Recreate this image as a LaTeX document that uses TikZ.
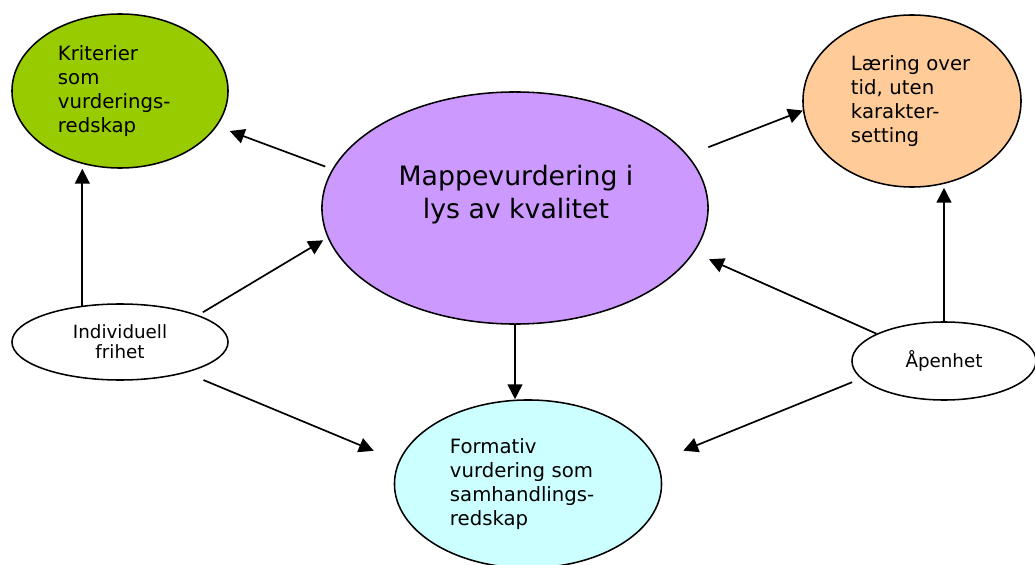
\documentclass[tikz,border=0pt]{standalone}
\usepackage{fontspec}
\setmainfont{DejaVu Sans}
\usepackage{xcolor}
\usepackage{tikz}
\usetikzlibrary{arrows.meta,shapes.geometric}

\definecolor{kritgronn}{HTML}{99CC00}
\definecolor{laeringoransje}{HTML}{FFCC99}
\definecolor{mappelilla}{HTML}{CC99FF}
\definecolor{formcyan}{HTML}{CCFFFF}

\begin{document}
\begin{tikzpicture}[x=0.025cm, y=-0.025cm,
    >={Triangle[length=10.5pt,width=10.5pt]},
    boble/.style={ellipse, draw=black, line width=1.1pt, inner sep=0pt},
    stor/.style={font=\fontsize{14}{17}\selectfont, align=left},
    liten/.style={font=\fontsize{13}{14.2}\selectfont, align=center},
    pil/.style={->, line width=1.2pt}]
  \useasboundingbox (0,0) rectangle (1035,565);
  % ------- centre: the portfolio -------
  \node[boble, fill=mappelilla, minimum width=9.65cm, minimum height=5.8cm] (mappe) at (515,208) {};
  \node[font=\fontsize{19}{23.5}\selectfont, align=center] (mappetekst) at (516,195)
    {Mappevurdering i\\lys av kvalitet};
  % ------- coloured ellipses -------
  \node[boble, stor, fill=kritgronn, minimum width=5.4cm, minimum height=3.85cm, text width=3.1cm] (krit) at (120,91)
    {Kriterier\\som\\vurderings-\\redskap};
  \node[boble, stor, fill=laeringoransje, minimum width=5.45cm, minimum height=4.3cm, text width=3.05cm] (laering) at (912,101)
    {Læring over\\tid, uten\\karakter-\\setting};
  \node[boble, stor, fill=formcyan, minimum width=6.675cm, minimum height=4.2cm, text width=3.9cm] (form) at (528,484)
    {Formativ\\vurdering som\\samhandlings-\\redskap};
  % ------- white ellipses -------
  \node[boble, liten, fill=white, minimum width=5.4cm, minimum height=1.9cm] (indiv) at (120,342) {Individuell\\frihet};
  \node[boble, liten, fill=white, minimum width=4.6cm, minimum height=1.95cm] (aapen) at (944,361) {Åpenhet};
  % ------- arrows -------
  \draw[pil] (indiv.136) -- (indiv.136 |- krit.south);
  \draw[pil, shorten <=5.3pt, shorten >=9.7pt] (mappe.168) -- (krit.-20);
  \draw[pil, shorten <=3.8pt, shorten >=3.6pt] (indiv.19) -- (mappe.189);
  \draw[pil, shorten <=13.4pt, shorten >=19.2pt] (indiv.-25) -- (form.170);
  \draw[pil] (mappe.south) -- (mappe.south |- form.north);
  \draw[pil, shorten <=15.6pt] (mappe.17) -- (laering.185);
  \draw[pil] (aapen.north) -- (aapen.north |- laering.south);
  \draw[pil, shorten >=11.6pt] (aapen.158) -- (mappe.-14);
  \draw[pil, shorten <=6.7pt, shorten >=19.9pt] (aapen.192) -- (form.10);
\end{tikzpicture}
\end{document}
